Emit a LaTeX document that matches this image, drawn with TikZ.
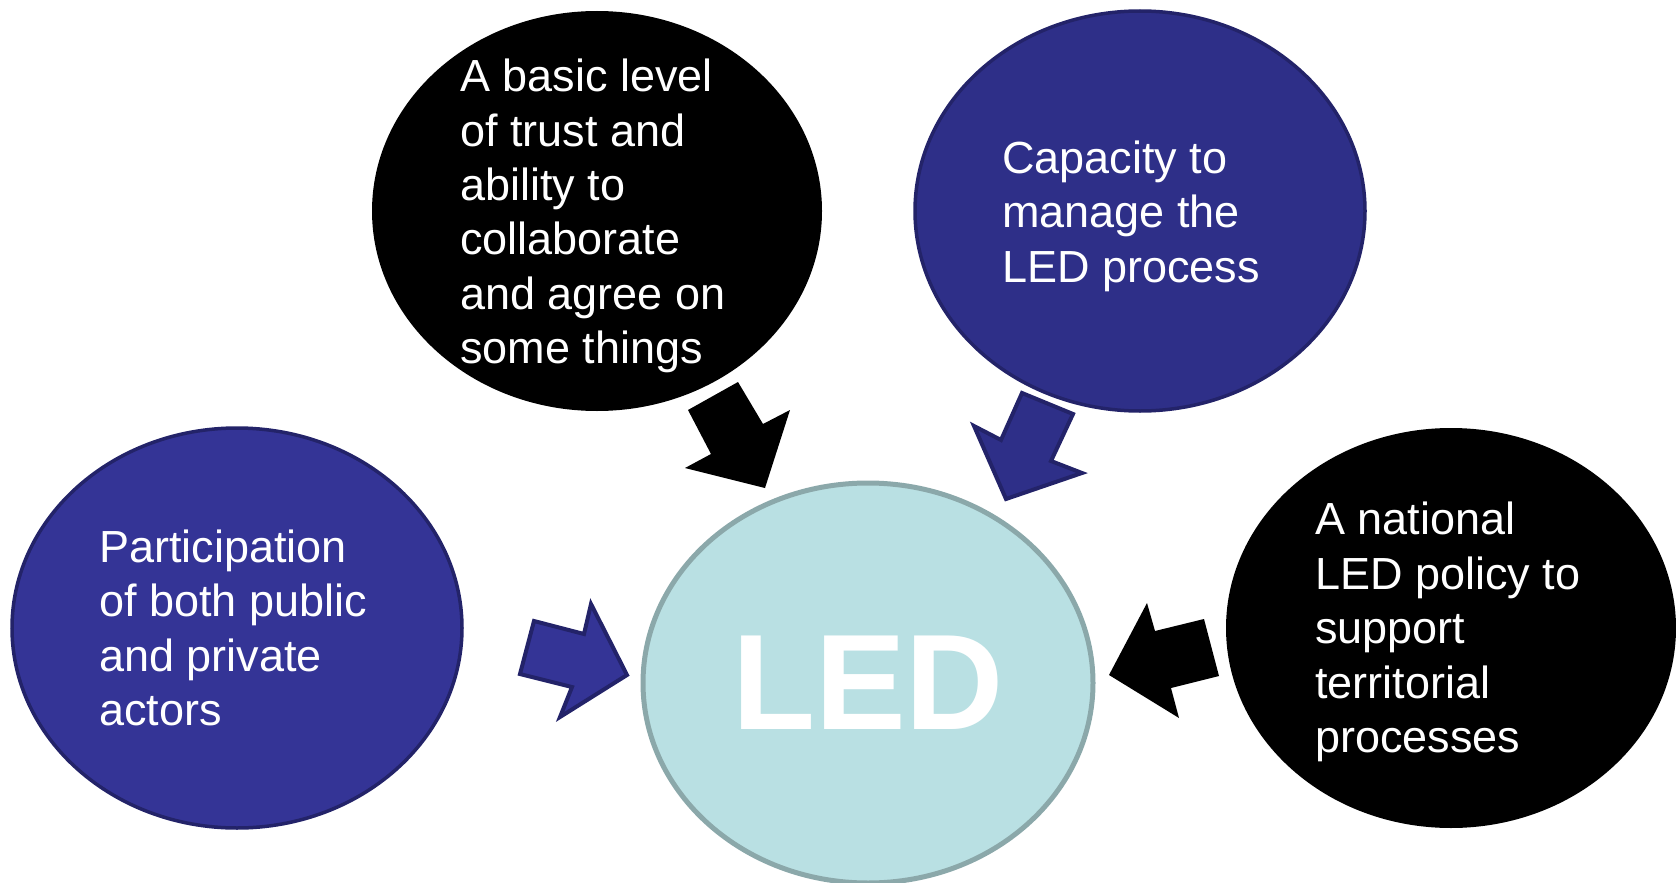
\documentclass[tikz,border=0pt]{standalone}
\usepackage{fontspec}
\setmainfont{Liberation Sans}
\usetikzlibrary{shapes.geometric}

\definecolor{blueA}{RGB}{52,52,150}
\definecolor{blueB}{RGB}{46,47,136}
\definecolor{blueLine}{RGB}{35,35,105}
\definecolor{ledFill}{RGB}{185,224,227}
\definecolor{ledLine}{RGB}{139,168,170}

\tikzset{
    blob/.style={ellipse, minimum width=225pt, minimum height=200pt, inner sep=0pt},
    words/.style={text=white, align=left, anchor=west, inner sep=0pt,
        font=\fontsize{22.5pt}{27.2pt}\selectfont},
    bluearrow/.style={fill=#1, draw=blueLine, line width=2pt, line join=miter}
}

\begin{document}
\begin{tikzpicture}[x=0.5pt, y=-0.5pt]
        \useasboundingbox (0,0) rectangle (1676,883);
        % 四个椭圆
        \node[blob, fill=blueA, draw=blueLine, line width=1.75pt] (part) at (237,628) {};
        \node[blob, fill=black] (trust) at (597,211) {};
        \node[blob, fill=blueB, draw=blueLine, line width=1.75pt] (cap) at (1140,211) {};
        \node[blob, fill=black] (policy) at (1451,628) {};
        % 中间的椭圆
        \node[blob, fill=ledFill, draw=ledLine, line width=2.5pt, text=white,
            font=\bfseries\fontsize{68pt}{68pt}\selectfont] (led) at (868,683) {LED};
        % 文字
        \node[words] (partT) at (99,628) {Participation\\of both public\\and private\\actors};
        \node[words] (trustT) at (460,216) {A basic level\\of trust and\\ability to\\collaborate\\and agree on\\some things};
        \node[words] (capT) at (1002,216) {Capacity to\\manage the\\LED process};
        \node[words] (policyT) at (1315,632) {A national\\LED policy to\\support\\territorial\\processes};
        % 箭头
        \fill (688,410) -- (738,382) -- (763,424) -- (790,410) -- (765,488) -- (685,468) -- (711,454) -- cycle;
        \filldraw[bluearrow=blueB] (1022,393) -- (1073,414) -- (1051,461) -- (1082,473) -- (1006,499) -- (974,426) -- (1001,440) -- cycle;
        \filldraw[bluearrow=blueA] (534,621) -- (584,634) -- (591,604) -- (627,675) -- (560,717) -- (572,687) -- (520,674) -- cycle;
        \fill (1204,619) -- (1155,631) -- (1147,603) -- (1109,675) -- (1179,718) -- (1171,688) -- (1219,676) -- cycle;
    \end{tikzpicture}
\end{document}
